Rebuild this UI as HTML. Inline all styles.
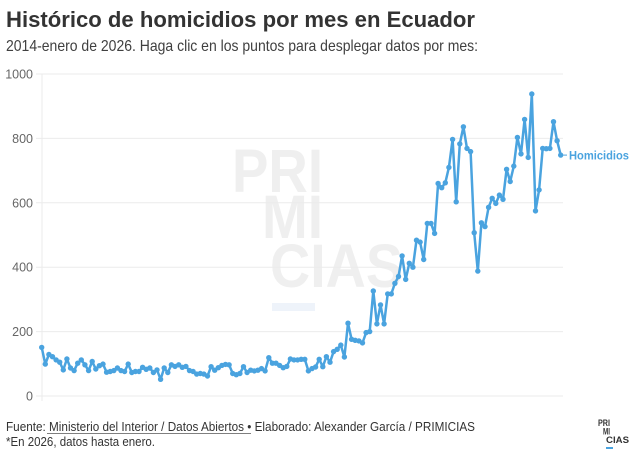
<!DOCTYPE html>
<html>
<head>
<meta charset="utf-8">
<style>
  html, body { margin: 0; padding: 0; background: #ffffff; }
  svg { display: block; }
  text { font-family: "Liberation Sans", sans-serif; }
</style>
</head>
<body>
<svg width="640" height="459" viewBox="0 0 640 459" xmlns="http://www.w3.org/2000/svg">
  <defs>
    <marker id="dot" markerUnits="userSpaceOnUse" markerWidth="8" markerHeight="8" refX="4" refY="4" viewBox="0 0 8 8">
      <circle cx="4" cy="4" r="2.7" fill="#4aa3df"/>
    </marker>
  </defs>
  <rect width="640" height="459" fill="#ffffff"/>

  <!-- Title / subtitle -->
  <text x="6" y="27" font-size="22" font-weight="bold" fill="#333333" textLength="469" lengthAdjust="spacingAndGlyphs">Histórico de homicidios por mes en Ecuador</text>
  <text x="6" y="51" font-size="16" fill="#404040" textLength="472" lengthAdjust="spacingAndGlyphs">2014-enero de 2026. Haga clic en los puntos para desplegar datos por mes:</text>

  <!-- Watermark -->
  <g fill="#efefef" font-weight="bold" font-size="61">
    <text x="232" y="192" textLength="91" lengthAdjust="spacingAndGlyphs">PRI</text>
    <text x="262" y="238" textLength="61" lengthAdjust="spacingAndGlyphs">MI</text>
    <text x="270" y="287" textLength="133" lengthAdjust="spacingAndGlyphs">CIAS</text>
  </g>
  <rect x="272" y="303" width="43" height="8" fill="#eef3fa"/>

  <!-- Gridlines -->
  <g stroke="#ebebeb" stroke-width="1">
    <line x1="36" y1="74" x2="563" y2="74"/>
    <line x1="36" y1="138.4" x2="563" y2="138.4"/>
    <line x1="36" y1="202.8" x2="563" y2="202.8"/>
    <line x1="36" y1="267.2" x2="563" y2="267.2"/>
    <line x1="36" y1="331.6" x2="563" y2="331.6"/>
    <line x1="36" y1="396" x2="563" y2="396"/>
    <line x1="42" y1="74" x2="42" y2="401"/>
  </g>

  <!-- Y labels -->
  <g font-size="12.5" fill="#666666" text-anchor="end">
    <text x="33" y="78.5">1000</text>
    <text x="33" y="142.9">800</text>
    <text x="33" y="207.3">600</text>
    <text x="33" y="271.7">400</text>
    <text x="33" y="336.1">200</text>
    <text x="33" y="400.5">0</text>
  </g>

  <!-- Series -->
  <polyline fill="none" stroke="#4aa3df" stroke-width="2.5" stroke-linejoin="round" stroke-linecap="round"
    marker-start="url(#dot)" marker-mid="url(#dot)" marker-end="url(#dot)"
    points="41.7,347.4 45.3,364.1 48.9,354.5 52.5,356.7 56.1,359.9 59.7,362.2 63.3,369.9 66.9,359.0 70.5,368.0 74.1,370.6 77.7,363.2 81.3,359.9 84.9,364.8 88.6,370.6 92.2,361.5 95.8,369.0 99.4,365.7 103.0,364.1 106.6,372.2 110.2,371.5 113.8,370.6 117.4,368.0 121.0,370.6 124.6,371.5 128.2,364.1 131.8,372.5 135.4,371.5 139.0,371.5 142.6,367.3 146.2,369.3 149.8,368.0 153.4,372.5 157.0,369.9 160.6,379.3 164.2,368.0 167.8,372.5 171.4,364.8 175.0,366.4 178.7,364.8 182.3,367.3 185.9,366.4 189.5,370.6 193.1,371.5 196.7,374.1 200.3,373.5 203.9,374.1 207.5,376.0 211.1,366.7 214.7,370.2 218.3,367.7 221.9,365.4 225.5,364.4 229.1,364.8 232.7,373.5 236.3,374.7 239.9,373.5 243.5,366.7 247.1,372.5 250.7,370.2 254.3,370.9 257.9,370.2 261.5,368.6 265.1,370.9 268.8,357.7 272.4,363.2 276.0,363.2 279.6,365.4 283.2,367.7 286.8,366.4 290.4,359.0 294.0,359.9 297.6,359.9 301.2,359.3 304.8,359.3 308.4,370.9 312.0,368.6 315.6,367.0 319.2,359.3 322.8,366.7 326.4,356.7 330.0,362.2 333.6,351.6 337.2,349.3 340.8,345.1 344.4,357.0 348.0,323.2 351.6,339.3 355.2,340.3 358.9,340.9 362.5,342.9 366.1,332.6 369.7,331.6 373.3,291.0 376.9,323.9 380.5,304.9 384.1,323.9 387.7,293.9 391.3,293.9 394.9,283.3 398.5,276.5 402.1,255.9 405.7,279.4 409.3,263.3 412.9,267.2 416.5,240.2 420.1,242.1 423.7,259.5 427.3,223.4 431.0,223.4 434.6,233.4 438.1,183.5 441.7,187.7 445.3,182.8 448.9,167.4 452.6,139.4 456.2,201.8 459.8,143.9 463.4,126.8 467.0,148.4 470.6,151.6 474.2,232.7 477.8,271.1 481.4,222.8 485.0,226.6 488.6,207.3 492.2,198.3 495.8,203.4 499.4,195.1 503.0,199.3 506.6,169.3 510.2,181.5 513.8,166.1 517.4,137.4 521.0,153.9 524.6,119.4 528.2,157.4 531.8,94.0 535.5,210.9 539.1,189.9 542.7,148.4 546.3,148.7 549.9,148.4 553.5,121.7 557.1,140.7 560.7,155.1"/>

  <!-- Series label -->
  <line x1="563.5" y1="155.1" x2="567" y2="155.1" stroke="#4aa3df" stroke-width="1"/>
  <text x="569" y="159.5" font-size="12" font-weight="bold" fill="#4aa3df" textLength="60" lengthAdjust="spacingAndGlyphs">Homicidios</text>

  <!-- Footer -->
  <text x="6" y="431" font-size="12.5" fill="#333333" textLength="469" lengthAdjust="spacingAndGlyphs">Fuente: Ministerio del Interior / Datos Abiertos • Elaborado: Alexander García / PRIMICIAS</text>
  <line x1="47" y1="433.5" x2="251" y2="433.5" stroke="#555555" stroke-width="0.8"/>
  <text x="6" y="446" font-size="12.5" fill="#333333" textLength="149" lengthAdjust="spacingAndGlyphs">*En 2026, datos hasta enero.</text>

  <!-- Logo -->
  <g font-size="9.5" font-weight="bold" fill="#333333">
    <text x="598" y="426" textLength="12" lengthAdjust="spacingAndGlyphs">PRI</text>
    <text x="603" y="434.5" textLength="7" lengthAdjust="spacingAndGlyphs">MI</text>
    <text x="606" y="443" textLength="23" lengthAdjust="spacingAndGlyphs">CIAS</text>
  </g>
  <rect x="606" y="447" width="7" height="2" fill="#4aa3df"/>
</svg>
</body>
</html>
